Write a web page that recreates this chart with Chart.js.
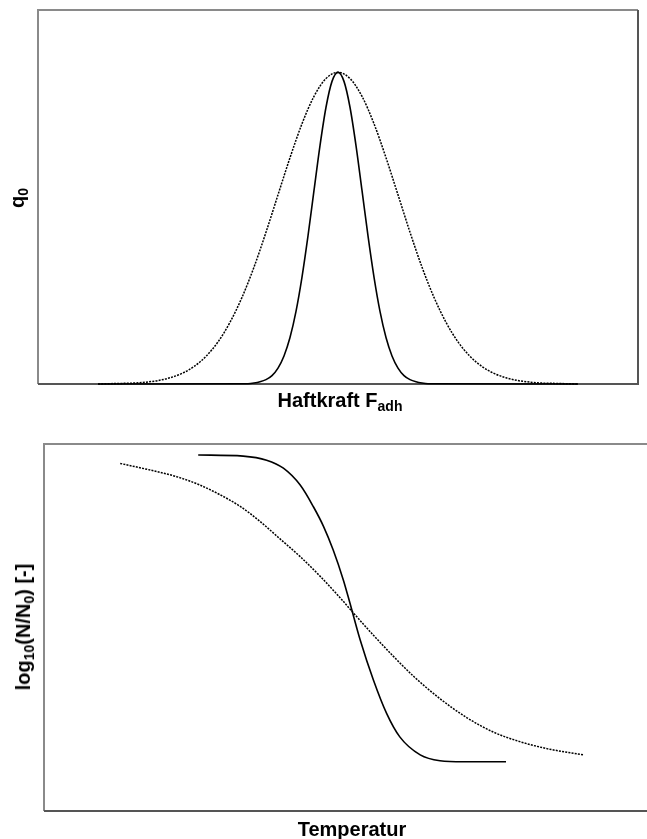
<!DOCTYPE html>
<html>
<head>
<meta charset="utf-8">
<script src="https://cdn.jsdelivr.net/npm/chart.js@4"></script>
<style>
  html, body { margin: 0; padding: 0; background: #fff; }
  body { width: 647px; height: 839px; position: relative; overflow: hidden; }
  canvas { position: absolute; left: 0; }
  #oben { top: 0; }
  #unten { top: 420px; }
  .titel {
    position: absolute;
    font-family: "Liberation Sans", Arial, sans-serif;
    font-weight: bold;
    font-size: 20px;
    line-height: 20px;
    white-space: nowrap;
    color: #000;
    transform: translate(-50%, -50%);
  }
  .titel.senkrecht { transform: translate(-50%, -50%) rotate(-90deg); }
  .titel span { font-size: 14px; vertical-align: -4px; }
</style>
</head>
<body>
<canvas id="oben" width="647" height="392"></canvas>
<canvas id="unten" width="680" height="400"></canvas>

<div class="titel senkrecht" style="left:20px; top:198px;">q<span>0</span></div>
<div class="titel" style="left:340px; top:403px;">Haftkraft F<span>adh</span></div>
<div class="titel senkrecht" style="left:26px; top:627px;">log<span>10</span>(N/N<span>0</span>) [-]</div>
<div class="titel" style="left:352px; top:829px;">Temperatur</div>

<script>
// Haftkraftverteilung: breite (gepunktet) und schmale (durchgezogen) Verteilung
var kraftBreit = [10, 12, 14, 16, 18, 20, 22, 24, 26, 28, 30, 32, 34, 36, 38, 40, 42, 44, 46, 48, 50,
                  52, 54, 56, 58, 60, 62, 64, 66, 68, 70, 72, 74, 76, 78, 80, 82, 84, 86, 88, 90];
var q0Breit = [0.000, 0.001, 0.002, 0.003, 0.006, 0.011, 0.020, 0.034, 0.056, 0.089, 0.135,
               0.198, 0.278, 0.375, 0.487, 0.607, 0.726, 0.835, 0.923, 0.980, 1.000,
               0.980, 0.923, 0.835, 0.726, 0.607, 0.487, 0.375, 0.278, 0.198, 0.135,
               0.089, 0.056, 0.034, 0.020, 0.011, 0.006, 0.003, 0.002, 0.001, 0.000];

var kraftSchmal = [10, 35, 36, 37, 38, 39, 40, 41, 42, 43, 44, 45, 46, 47, 48, 49, 50,
                   51, 52, 53, 54, 55, 56, 57, 58, 59, 60, 61, 62, 63, 64, 65, 90];
var q0Schmal = [0.000, 0.001, 0.003, 0.007, 0.014, 0.027, 0.051, 0.090, 0.149, 0.233, 0.343,
                0.475, 0.621, 0.765, 0.888, 0.971, 1.000, 0.971, 0.888, 0.765, 0.621, 0.475,
                0.343, 0.233, 0.149, 0.090, 0.051, 0.027, 0.014, 0.007, 0.003, 0.001, 0.000];

// Abtoetungskurven ueber der Temperatur
var tempSteil = [25.7, 33.2, 37.1, 39.9, 42.7, 44.9, 46.6, 48.2, 49.9, 51.0, 52.7, 54.9, 57.1,
                 59.3, 62.7, 66.0, 69.9, 77.0];
var logSteil = [97.0, 96.7, 95.6, 93.4, 88.8, 82.9, 77.5, 71.1, 62.9, 56.6, 46.6, 35.7, 26.6,
                20.2, 15.3, 13.7, 13.4, 13.4];

var tempFlach = [12.7, 17.7, 22.1, 26.0, 29.3, 32.7, 36.0, 39.3, 42.7, 46.0, 49.3, 51.6, 54.9,
                 58.2, 61.6, 66.0, 70.5, 74.9, 79.3, 83.8, 89.9];
var logFlach = [94.7, 92.9, 91.1, 88.8, 86.2, 83.0, 78.9, 74.2, 69.3, 64.0, 58.2, 53.9, 47.9,
                42.2, 36.7, 30.6, 25.4, 21.5, 18.9, 17.0, 15.3];

function punkte(xs, ys) {
    return xs.map(function (x, i) { return { x: x, y: ys[i] }; });
}

// Rahmen um die Zeichenflaeche
var rahmen = {
    id: 'rahmen',
    beforeDatasetsDraw: function (chart) {
        var ctx = chart.ctx, a = chart.chartArea;
        ctx.save();
        ctx.lineWidth = 2;
        ctx.strokeStyle = '#8a8a8a';
        ctx.beginPath();
        ctx.moveTo(a.left, a.bottom);
        ctx.lineTo(a.left, a.top);
        ctx.lineTo(a.right, a.top);
        ctx.stroke();
        ctx.strokeStyle = '#555555';
        ctx.beginPath();
        ctx.moveTo(a.right, a.top);
        ctx.lineTo(a.right, a.bottom);
        ctx.lineTo(a.left, a.bottom);
        ctx.stroke();
        ctx.restore();
    }
};

function linie(daten, gepunktet) {
    return {
        data: daten,
        borderColor: '#000000',
        borderWidth: gepunktet ? 1.5 : 1.6,
        borderDash: gepunktet ? [2, 1.2] : [],
        pointRadius: 0,
        fill: false,
        tension: 0.4,
        cubicInterpolationMode: 'monotone',
        clip: false
    };
}

function optionen(xMax, yMax, pad) {
    return {
        responsive: false,
        devicePixelRatio: 1,
        animation: false,
        layout: { padding: pad },
        scales: {
            x: { type: 'linear', display: false, min: 0, max: xMax },
            y: { type: 'linear', display: false, min: 0, max: yMax }
        },
        plugins: {
            legend: { display: false },
            tooltip: { enabled: false }
        }
    };
}

new Chart(document.getElementById('oben').getContext('2d'), {
    type: 'line',
    data: {
        datasets: [
            linie(punkte(kraftBreit, q0Breit), true),
            linie(punkte(kraftSchmal, q0Schmal), false)
        ]
    },
    options: optionen(100, 1.2, { left: 38, top: 10, right: 9, bottom: 8 }),
    plugins: [rahmen]
});

new Chart(document.getElementById('unten').getContext('2d'), {
    type: 'line',
    data: {
        datasets: [
            linie(punkte(tempFlach, logFlach), true),
            linie(punkte(tempSteil, logSteil), false)
        ]
    },
    options: optionen(101, 100, { left: 44, top: 24, right: 30, bottom: 9 }),
    plugins: [rahmen]
});
</script>
</body>
</html>
